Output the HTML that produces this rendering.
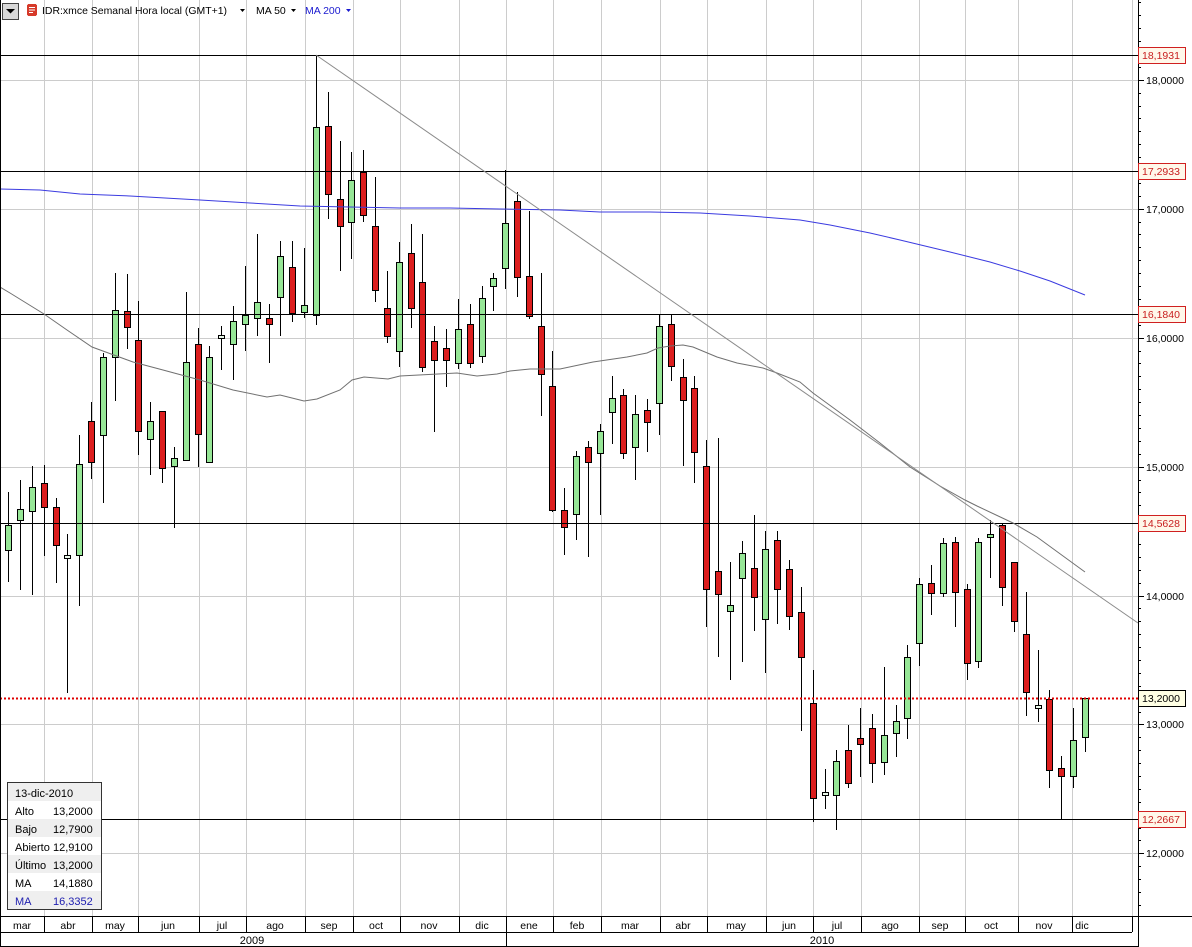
<!DOCTYPE html>
<html><head><meta charset="utf-8">
<style>
html,body{margin:0;padding:0;background:#fff;}
svg{display:block;}
.g{fill:#96e696}.r{fill:#dc1e1e}.w{fill:#eaf8ea}
text{font-family:"Liberation Sans",Arial,sans-serif;}
</style></head>
<body>
<svg width="1192" height="947" viewBox="0 0 1192 947" xmlns="http://www.w3.org/2000/svg" shape-rendering="crispEdges">
<rect x="0" y="0" width="1192" height="947" fill="#fff"/>
<!-- vertical gridlines -->
<g stroke="#cccccc" stroke-width="1">
<path d="M44.5 0V916M92.5 0V916M138.5 0V916M199.5 0V916M246.5 0V916M305.5 0V916M353.5 0V916M400.5 0V916M459.5 0V916M506.5 0V916M553.5 0V916M601.5 0V916M660.5 0V916M707.5 0V916M766.5 0V916M813.5 0V916M861.5 0V916M919.5 0V916M965.5 0V916M1018.5 0V916M1072.5 0V916M1132.5 0V916"/>
<path d="M0 80.5H1138M0 209.5H1138M0 338.5H1138M0 467.5H1138M0 596.5H1138M0 724.5H1138M0 853.5H1138"/>
</g>

<!-- candles -->
<g fill="#000">
<g transform="translate(8)"><rect x="0" y="492" width="1" height="90"/><rect x="-3" y="525" width="7" height="26"/><rect class="g" x="-2" y="526" width="5" height="24"/></g>
<g transform="translate(20)"><rect x="0" y="480" width="1" height="110"/><rect x="-3" y="509" width="7" height="12"/><rect class="g" x="-2" y="510" width="5" height="10"/></g>
<g transform="translate(32)"><rect x="0" y="466" width="1" height="129"/><rect x="-3" y="487" width="7" height="25"/><rect class="g" x="-2" y="488" width="5" height="23"/></g>
<g transform="translate(44)"><rect x="0" y="465" width="1" height="91"/><rect x="-3" y="483" width="7" height="25"/><rect class="r" x="-2" y="484" width="5" height="23"/></g>
<g transform="translate(56)"><rect x="0" y="498" width="1" height="85"/><rect x="-3" y="507" width="7" height="39"/><rect class="r" x="-2" y="508" width="5" height="37"/></g>
<g transform="translate(67)"><rect x="0" y="534" width="1" height="159"/><rect x="-3" y="555" width="7" height="4"/><rect class="w" x="-2" y="556" width="5" height="2"/></g>
<g transform="translate(79)"><rect x="0" y="435" width="1" height="171"/><rect x="-3" y="464" width="7" height="92"/><rect class="g" x="-2" y="465" width="5" height="90"/></g>
<g transform="translate(91)"><rect x="0" y="402" width="1" height="77"/><rect x="-3" y="421" width="7" height="42"/><rect class="r" x="-2" y="422" width="5" height="40"/></g>
<g transform="translate(103)"><rect x="0" y="353" width="1" height="150"/><rect x="-3" y="357" width="7" height="79"/><rect class="g" x="-2" y="358" width="5" height="77"/></g>
<g transform="translate(115)"><rect x="0" y="273" width="1" height="128"/><rect x="-3" y="310" width="7" height="48"/><rect class="g" x="-2" y="311" width="5" height="46"/></g>
<g transform="translate(127)"><rect x="0" y="274" width="1" height="75"/><rect x="-3" y="311" width="7" height="17"/><rect class="r" x="-2" y="312" width="5" height="15"/></g>
<g transform="translate(138)"><rect x="0" y="301" width="1" height="154"/><rect x="-3" y="340" width="7" height="92"/><rect class="r" x="-2" y="341" width="5" height="90"/></g>
<g transform="translate(150)"><rect x="0" y="402" width="1" height="73"/><rect x="-3" y="421" width="7" height="19"/><rect class="g" x="-2" y="422" width="5" height="17"/></g>
<g transform="translate(162)"><rect x="0" y="411" width="1" height="72"/><rect x="-3" y="411" width="7" height="58"/><rect class="r" x="-2" y="412" width="5" height="56"/></g>
<g transform="translate(174)"><rect x="0" y="447" width="1" height="81"/><rect x="-3" y="458" width="7" height="9"/><rect class="g" x="-2" y="459" width="5" height="7"/></g>
<g transform="translate(186)"><rect x="0" y="292" width="1" height="168"/><rect x="-3" y="362" width="7" height="99"/><rect class="g" x="-2" y="363" width="5" height="97"/></g>
<g transform="translate(198)"><rect x="0" y="328" width="1" height="139"/><rect x="-3" y="344" width="7" height="91"/><rect class="r" x="-2" y="345" width="5" height="89"/></g>
<g transform="translate(209)"><rect x="0" y="346" width="1" height="116"/><rect x="-3" y="357" width="7" height="106"/><rect class="g" x="-2" y="358" width="5" height="104"/></g>
<g transform="translate(221)"><rect x="0" y="326" width="1" height="44"/><rect x="-3" y="335" width="7" height="4"/><rect class="w" x="-2" y="336" width="5" height="2"/></g>
<g transform="translate(233)"><rect x="0" y="306" width="1" height="74"/><rect x="-3" y="321" width="7" height="24"/><rect class="g" x="-2" y="322" width="5" height="22"/></g>
<g transform="translate(245)"><rect x="0" y="266" width="1" height="85"/><rect x="-3" y="315" width="7" height="10"/><rect class="g" x="-2" y="316" width="5" height="8"/></g>
<g transform="translate(257)"><rect x="0" y="234" width="1" height="102"/><rect x="-3" y="302" width="7" height="17"/><rect class="g" x="-2" y="303" width="5" height="15"/></g>
<g transform="translate(269)"><rect x="0" y="304" width="1" height="59"/><rect x="-3" y="318" width="7" height="7"/><rect class="r" x="-2" y="319" width="5" height="5"/></g>
<g transform="translate(280)"><rect x="0" y="241" width="1" height="95"/><rect x="-3" y="256" width="7" height="42"/><rect class="g" x="-2" y="257" width="5" height="40"/></g>
<g transform="translate(292)"><rect x="0" y="241" width="1" height="81"/><rect x="-3" y="267" width="7" height="47"/><rect class="r" x="-2" y="268" width="5" height="45"/></g>
<g transform="translate(304)"><rect x="0" y="248" width="1" height="70"/><rect x="-3" y="305" width="7" height="8"/><rect class="g" x="-2" y="306" width="5" height="6"/></g>
<g transform="translate(316)"><rect x="0" y="55" width="1" height="270"/><rect x="-3" y="127" width="7" height="189"/><rect class="g" x="-2" y="128" width="5" height="187"/></g>
<g transform="translate(328)"><rect x="0" y="92" width="1" height="127"/><rect x="-3" y="126" width="7" height="69"/><rect class="r" x="-2" y="127" width="5" height="67"/></g>
<g transform="translate(340)"><rect x="0" y="141" width="1" height="130"/><rect x="-3" y="199" width="7" height="28"/><rect class="r" x="-2" y="200" width="5" height="26"/></g>
<g transform="translate(351)"><rect x="0" y="152" width="1" height="107"/><rect x="-3" y="180" width="7" height="43"/><rect class="g" x="-2" y="181" width="5" height="41"/></g>
<g transform="translate(363)"><rect x="0" y="150" width="1" height="72"/><rect x="-3" y="172" width="7" height="44"/><rect class="r" x="-2" y="173" width="5" height="42"/></g>
<g transform="translate(375)"><rect x="0" y="177" width="1" height="125"/><rect x="-3" y="226" width="7" height="65"/><rect class="r" x="-2" y="227" width="5" height="63"/></g>
<g transform="translate(387)"><rect x="0" y="271" width="1" height="72"/><rect x="-3" y="308" width="7" height="29"/><rect class="r" x="-2" y="309" width="5" height="27"/></g>
<g transform="translate(399)"><rect x="0" y="242" width="1" height="125"/><rect x="-3" y="262" width="7" height="90"/><rect class="g" x="-2" y="263" width="5" height="88"/></g>
<g transform="translate(411)"><rect x="0" y="224" width="1" height="104"/><rect x="-3" y="253" width="7" height="56"/><rect class="r" x="-2" y="254" width="5" height="54"/></g>
<g transform="translate(422)"><rect x="0" y="234" width="1" height="138"/><rect x="-3" y="282" width="7" height="86"/><rect class="r" x="-2" y="283" width="5" height="84"/></g>
<g transform="translate(434)"><rect x="0" y="326" width="1" height="106"/><rect x="-3" y="341" width="7" height="20"/><rect class="r" x="-2" y="342" width="5" height="18"/></g>
<g transform="translate(446)"><rect x="0" y="329" width="1" height="58"/><rect x="-3" y="348" width="7" height="13"/><rect class="r" x="-2" y="349" width="5" height="11"/></g>
<g transform="translate(458)"><rect x="0" y="299" width="1" height="70"/><rect x="-3" y="329" width="7" height="35"/><rect class="g" x="-2" y="330" width="5" height="33"/></g>
<g transform="translate(470)"><rect x="0" y="304" width="1" height="64"/><rect x="-3" y="324" width="7" height="40"/><rect class="r" x="-2" y="325" width="5" height="38"/></g>
<g transform="translate(482)"><rect x="0" y="286" width="1" height="77"/><rect x="-3" y="298" width="7" height="59"/><rect class="g" x="-2" y="299" width="5" height="57"/></g>
<g transform="translate(493)"><rect x="0" y="273" width="1" height="38"/><rect x="-3" y="278" width="7" height="9"/><rect class="g" x="-2" y="279" width="5" height="7"/></g>
<g transform="translate(505)"><rect x="0" y="170" width="1" height="119"/><rect x="-3" y="223" width="7" height="46"/><rect class="g" x="-2" y="224" width="5" height="44"/></g>
<g transform="translate(517)"><rect x="0" y="192" width="1" height="105"/><rect x="-3" y="201" width="7" height="77"/><rect class="r" x="-2" y="202" width="5" height="75"/></g>
<g transform="translate(529)"><rect x="0" y="211" width="1" height="108"/><rect x="-3" y="276" width="7" height="41"/><rect class="r" x="-2" y="277" width="5" height="39"/></g>
<g transform="translate(541)"><rect x="0" y="273" width="1" height="143"/><rect x="-3" y="326" width="7" height="49"/><rect class="r" x="-2" y="327" width="5" height="47"/></g>
<g transform="translate(552)"><rect x="0" y="351" width="1" height="161"/><rect x="-3" y="386" width="7" height="125"/><rect class="r" x="-2" y="387" width="5" height="123"/></g>
<g transform="translate(564)"><rect x="0" y="488" width="1" height="67"/><rect x="-3" y="510" width="7" height="18"/><rect class="r" x="-2" y="511" width="5" height="16"/></g>
<g transform="translate(576)"><rect x="0" y="451" width="1" height="89"/><rect x="-3" y="456" width="7" height="59"/><rect class="g" x="-2" y="457" width="5" height="57"/></g>
<g transform="translate(588)"><rect x="0" y="441" width="1" height="116"/><rect x="-3" y="447" width="7" height="16"/><rect class="r" x="-2" y="448" width="5" height="14"/></g>
<g transform="translate(600)"><rect x="0" y="424" width="1" height="91"/><rect x="-3" y="431" width="7" height="23"/><rect class="g" x="-2" y="432" width="5" height="21"/></g>
<g transform="translate(612)"><rect x="0" y="376" width="1" height="68"/><rect x="-3" y="398" width="7" height="15"/><rect class="g" x="-2" y="399" width="5" height="13"/></g>
<g transform="translate(623)"><rect x="0" y="389" width="1" height="70"/><rect x="-3" y="395" width="7" height="59"/><rect class="r" x="-2" y="396" width="5" height="57"/></g>
<g transform="translate(635)"><rect x="0" y="395" width="1" height="85"/><rect x="-3" y="414" width="7" height="34"/><rect class="g" x="-2" y="415" width="5" height="32"/></g>
<g transform="translate(647)"><rect x="0" y="399" width="1" height="53"/><rect x="-3" y="410" width="7" height="13"/><rect class="r" x="-2" y="411" width="5" height="11"/></g>
<g transform="translate(659)"><rect x="0" y="314" width="1" height="121"/><rect x="-3" y="326" width="7" height="78"/><rect class="g" x="-2" y="327" width="5" height="76"/></g>
<g transform="translate(671)"><rect x="0" y="314" width="1" height="67"/><rect x="-3" y="324" width="7" height="43"/><rect class="r" x="-2" y="325" width="5" height="41"/></g>
<g transform="translate(683)"><rect x="0" y="359" width="1" height="107"/><rect x="-3" y="377" width="7" height="24"/><rect class="r" x="-2" y="378" width="5" height="22"/></g>
<g transform="translate(694)"><rect x="0" y="376" width="1" height="107"/><rect x="-3" y="388" width="7" height="65"/><rect class="r" x="-2" y="389" width="5" height="63"/></g>
<g transform="translate(706)"><rect x="0" y="440" width="1" height="187"/><rect x="-3" y="466" width="7" height="124"/><rect class="r" x="-2" y="467" width="5" height="122"/></g>
<g transform="translate(718)"><rect x="0" y="438" width="1" height="219"/><rect x="-3" y="571" width="7" height="24"/><rect class="r" x="-2" y="572" width="5" height="22"/></g>
<g transform="translate(730)"><rect x="0" y="562" width="1" height="118"/><rect x="-3" y="605" width="7" height="7"/><rect class="g" x="-2" y="606" width="5" height="5"/></g>
<g transform="translate(742)"><rect x="0" y="541" width="1" height="121"/><rect x="-3" y="553" width="7" height="26"/><rect class="g" x="-2" y="554" width="5" height="24"/></g>
<g transform="translate(754)"><rect x="0" y="515" width="1" height="116"/><rect x="-3" y="568" width="7" height="30"/><rect class="r" x="-2" y="569" width="5" height="28"/></g>
<g transform="translate(765)"><rect x="0" y="531" width="1" height="142"/><rect x="-3" y="549" width="7" height="71"/><rect class="g" x="-2" y="550" width="5" height="69"/></g>
<g transform="translate(777)"><rect x="0" y="531" width="1" height="93"/><rect x="-3" y="540" width="7" height="50"/><rect class="r" x="-2" y="541" width="5" height="48"/></g>
<g transform="translate(789)"><rect x="0" y="560" width="1" height="70"/><rect x="-3" y="569" width="7" height="48"/><rect class="r" x="-2" y="570" width="5" height="46"/></g>
<g transform="translate(801)"><rect x="0" y="587" width="1" height="144"/><rect x="-3" y="612" width="7" height="46"/><rect class="r" x="-2" y="613" width="5" height="44"/></g>
<g transform="translate(813)"><rect x="0" y="670" width="1" height="152"/><rect x="-3" y="703" width="7" height="96"/><rect class="r" x="-2" y="704" width="5" height="94"/></g>
<g transform="translate(825)"><rect x="0" y="769" width="1" height="40"/><rect x="-3" y="792" width="7" height="4"/><rect class="w" x="-2" y="793" width="5" height="2"/></g>
<g transform="translate(836)"><rect x="0" y="750" width="1" height="80"/><rect x="-3" y="761" width="7" height="35"/><rect class="g" x="-2" y="762" width="5" height="33"/></g>
<g transform="translate(848)"><rect x="0" y="725" width="1" height="63"/><rect x="-3" y="750" width="7" height="34"/><rect class="r" x="-2" y="751" width="5" height="32"/></g>
<g transform="translate(860)"><rect x="0" y="708" width="1" height="69"/><rect x="-3" y="738" width="7" height="7"/><rect class="r" x="-2" y="739" width="5" height="5"/></g>
<g transform="translate(872)"><rect x="0" y="714" width="1" height="69"/><rect x="-3" y="728" width="7" height="36"/><rect class="r" x="-2" y="729" width="5" height="34"/></g>
<g transform="translate(884)"><rect x="0" y="667" width="1" height="108"/><rect x="-3" y="735" width="7" height="28"/><rect class="g" x="-2" y="736" width="5" height="26"/></g>
<g transform="translate(896)"><rect x="0" y="705" width="1" height="52"/><rect x="-3" y="721" width="7" height="13"/><rect class="g" x="-2" y="722" width="5" height="11"/></g>
<g transform="translate(907)"><rect x="0" y="645" width="1" height="94"/><rect x="-3" y="657" width="7" height="62"/><rect class="g" x="-2" y="658" width="5" height="60"/></g>
<g transform="translate(919)"><rect x="0" y="578" width="1" height="88"/><rect x="-3" y="584" width="7" height="60"/><rect class="g" x="-2" y="585" width="5" height="58"/></g>
<g transform="translate(931)"><rect x="0" y="565" width="1" height="50"/><rect x="-3" y="583" width="7" height="11"/><rect class="r" x="-2" y="584" width="5" height="9"/></g>
<g transform="translate(943)"><rect x="0" y="538" width="1" height="59"/><rect x="-3" y="543" width="7" height="51"/><rect class="g" x="-2" y="544" width="5" height="49"/></g>
<g transform="translate(955)"><rect x="0" y="537" width="1" height="90"/><rect x="-3" y="542" width="7" height="51"/><rect class="r" x="-2" y="543" width="5" height="49"/></g>
<g transform="translate(967)"><rect x="0" y="584" width="1" height="96"/><rect x="-3" y="589" width="7" height="75"/><rect class="r" x="-2" y="590" width="5" height="73"/></g>
<g transform="translate(978)"><rect x="0" y="538" width="1" height="130"/><rect x="-3" y="542" width="7" height="120"/><rect class="g" x="-2" y="543" width="5" height="118"/></g>
<g transform="translate(990)"><rect x="0" y="520" width="1" height="58"/><rect x="-3" y="534" width="7" height="4"/><rect class="g" x="-2" y="535" width="5" height="2"/></g>
<g transform="translate(1002)"><rect x="0" y="523" width="1" height="83"/><rect x="-3" y="525" width="7" height="63"/><rect class="r" x="-2" y="526" width="5" height="61"/></g>
<g transform="translate(1014)"><rect x="0" y="562" width="1" height="70"/><rect x="-3" y="562" width="7" height="60"/><rect class="r" x="-2" y="563" width="5" height="58"/></g>
<g transform="translate(1026)"><rect x="0" y="592" width="1" height="124"/><rect x="-3" y="634" width="7" height="59"/><rect class="r" x="-2" y="635" width="5" height="57"/></g>
<g transform="translate(1038)"><rect x="0" y="650" width="1" height="72"/><rect x="-3" y="705" width="7" height="4"/><rect class="w" x="-2" y="706" width="5" height="2"/></g>
<g transform="translate(1049)"><rect x="0" y="690" width="1" height="98"/><rect x="-3" y="699" width="7" height="72"/><rect class="r" x="-2" y="700" width="5" height="70"/></g>
<g transform="translate(1061)"><rect x="0" y="756" width="1" height="64"/><rect x="-3" y="768" width="7" height="9"/><rect class="r" x="-2" y="769" width="5" height="7"/></g>
<g transform="translate(1073)"><rect x="0" y="708" width="1" height="80"/><rect x="-3" y="740" width="7" height="37"/><rect class="g" x="-2" y="741" width="5" height="35"/></g>
<g transform="translate(1085)"><rect x="0" y="698" width="1" height="54"/><rect x="-3" y="698" width="7" height="40"/><rect class="g" x="-2" y="699" width="5" height="38"/></g>
</g>

<!-- horizontal drawing lines -->
<g stroke="#000" stroke-width="1">
<path d="M0 55.5H1138M0 171.5H1138M0 314.5H1138M0 523.5H1138M0 819.5H1138"/>
</g>
<path d="M0 698.5H1138" stroke="#e00000" stroke-width="2" stroke-dasharray="2 2"/>

<!-- MA lines and trendline -->
<g fill="none" shape-rendering="auto">
<polyline stroke="#3b3be0" stroke-width="1" points="0,189 40,190 80,194 130,196 200,200 250,203 300,206 350,207 400,208 450,208 500,209 560,210 600,212 650,212 700,213 750,216 800,220 830,225 870,233 900,240 950,252 990,262 1020,271 1050,281 1085,295"/>
<polyline stroke="#707070" stroke-width="1" points="0,287 10,293 44,314 67,330 92,347 133,362 163,370 200,380 233,390 267,397 280,395 300,400 304,401 317,399 340,390 352,380 364,377 388,379 400,376 457,373 477,376 497,374 510,371 530,369 560,369 593,362 627,357 647,353 658,348 670,346 683,345 693,347 717,357 737,363 763,368 777,373 800,382 813,393 850,420 880,443 910,467 940,486 965,500 977,506 1013,523 1037,537 1085,572"/>
<line x1="316" y1="55" x2="1138" y2="623" stroke="#8a8a8a" stroke-width="1"/>
</g>

<!-- left border -->
<path d="M0.5 0V947" stroke="#000"/>

<!-- right axis -->
<rect x="1139" y="0" width="53" height="916" fill="#fff"/>
<path d="M1138.5 0V947" stroke="#000"/>
<path stroke="#000" d="M1138 2.5h3M1138 15.5h3M1138 28.5h3M1138 41.5h3M1138 54.5h3M1138 67.5h3M1138 80.5h6M1138 93.5h3M1138 106.5h3M1138 118.5h3M1138 131.5h3M1138 144.5h3M1138 157.5h3M1138 170.5h3M1138 183.5h3M1138 196.5h3M1138 209.5h6M1138 222.5h3M1138 234.5h3M1138 247.5h3M1138 260.5h3M1138 273.5h3M1138 286.5h3M1138 299.5h3M1138 312.5h3M1138 325.5h3M1138 338.5h6M1138 351.5h3M1138 363.5h3M1138 376.5h3M1138 389.5h3M1138 402.5h3M1138 415.5h3M1138 428.5h3M1138 441.5h3M1138 454.5h3M1138 467.5h6M1138 480.5h3M1138 492.5h3M1138 505.5h3M1138 518.5h3M1138 531.5h3M1138 544.5h3M1138 557.5h3M1138 570.5h3M1138 583.5h3M1138 596.5h6M1138 608.5h3M1138 621.5h3M1138 634.5h3M1138 647.5h3M1138 660.5h3M1138 673.5h3M1138 686.5h3M1138 699.5h3M1138 712.5h3M1138 724.5h6M1138 737.5h3M1138 750.5h3M1138 763.5h3M1138 776.5h3M1138 789.5h3M1138 802.5h3M1138 815.5h3M1138 828.5h3M1138 840.5h3M1138 853.5h6M1138 866.5h3M1138 879.5h3M1138 892.5h3M1138 905.5h3"/>
<g font-size="10.5" fill="#000">
<text x="1146" y="84">18,0000</text>
<text x="1146" y="213">17,0000</text>
<text x="1146" y="342">16,0000</text>
<text x="1146" y="471">15,0000</text>
<text x="1146" y="600">14,0000</text>
<text x="1146" y="728">13,0000</text>
<text x="1146" y="857">12,0000</text>
</g>
<!-- value boxes -->
<g font-size="10.5">
<rect x="1138.5" y="47.5" width="47" height="16" fill="#fff8ea" stroke="#d02020"/>
<text x="1142" y="59" fill="#c81e1e">18,1931</text>
<rect x="1138.5" y="163.5" width="47" height="16" fill="#fff8ea" stroke="#d02020"/>
<text x="1142" y="175" fill="#c81e1e">17,2933</text>
<rect x="1138.5" y="306.5" width="47" height="16" fill="#fff8ea" stroke="#d02020"/>
<text x="1142" y="318" fill="#c81e1e">16,1840</text>
<rect x="1138.5" y="515.5" width="47" height="16" fill="#fff8ea" stroke="#d02020"/>
<text x="1142" y="527" fill="#c81e1e">14,5628</text>
<rect x="1138.5" y="690.5" width="47" height="16" fill="#ffffe4" stroke="#000"/>
<text x="1142" y="702" fill="#000">13,2000</text>
<rect x="1138.5" y="811.5" width="47" height="16" fill="#fff8ea" stroke="#d02020"/>
<text x="1142" y="823" fill="#c81e1e">12,2667</text>
</g>

<!-- bottom axis -->
<rect x="1" y="917" width="1137" height="29" fill="#fff"/>
<g stroke="#000">
<path d="M0 916.5H1192M0 932.5H1132M0 946.5H1138"/>
<path d="M44.5 917V932M92.5 917V932M138.5 917V932M199.5 917V932M246.5 917V932M305.5 917V932M353.5 917V932M400.5 917V932M459.5 917V932M506.5 917V932M553.5 917V932M601.5 917V932M660.5 917V932M707.5 917V932M766.5 917V932M813.5 917V932M861.5 917V932M919.5 917V932M965.5 917V932M1018.5 917V932M1072.5 917V932M1132.5 917V932M506.5 932V946"/>
</g>
<g font-size="10.5" fill="#000" text-anchor="middle">
<text x="22" y="929">mar</text>
<text x="68" y="929">abr</text>
<text x="115" y="929">may</text>
<text x="168" y="929">jun</text>
<text x="222" y="929">jul</text>
<text x="275" y="929">ago</text>
<text x="329" y="929">sep</text>
<text x="376" y="929">oct</text>
<text x="429" y="929">nov</text>
<text x="482" y="929">dic</text>
<text x="529" y="929">ene</text>
<text x="577" y="929">feb</text>
<text x="630" y="929">mar</text>
<text x="683" y="929">abr</text>
<text x="736" y="929">may</text>
<text x="789" y="929">jun</text>
<text x="837" y="929">jul</text>
<text x="890" y="929">ago</text>
<text x="940" y="929">sep</text>
<text x="991" y="929">oct</text>
<text x="1044" y="929">nov</text>
<text x="1082" y="929">dic</text>
<text x="252" y="944" font-size="11">2009</text>
<text x="822" y="944" font-size="11">2010</text>
</g>

<!-- info box -->
<g>
<rect x="7.5" y="782.5" width="94" height="127" fill="#fff" stroke="#333"/>
<rect x="8" y="783" width="93" height="18" fill="#efefef"/>
<rect x="8" y="819" width="93" height="18" fill="#efefef"/>
<rect x="8" y="855" width="93" height="18" fill="#efefef"/>
<rect x="8" y="891" width="93" height="18" fill="#efefef"/>
<g font-size="11" fill="#000">
<text x="15" y="797">13-dic-2010</text>
<text x="15" y="815">Alto</text><text x="53" y="815">13,2000</text>
<text x="15" y="833">Bajo</text><text x="53" y="833">12,7900</text>
<text x="15" y="851">Abierto</text><text x="53" y="851">12,9100</text>
<text x="15" y="869">Último</text><text x="53" y="869">13,2000</text>
<text x="15" y="887">MA</text><text x="53" y="887">14,1880</text>
<text x="15" y="905" fill="#2020b0">MA</text><text x="53" y="905" fill="#2020b0">16,3352</text>
</g>
</g>

<!-- header -->
<g>
<rect x="2.5" y="3.5" width="16" height="16" fill="#d8d8d8" stroke="#444"/>
<path d="M6 9h9l-4.5 4.5z" fill="#000" shape-rendering="auto"/>
<rect x="27" y="4" width="10" height="12" rx="2" fill="#d63a2a"/>
<path d="M29 7.5h6M29 10h6M29 12.5h4" stroke="#fff" stroke-width="1"/>
<text x="42" y="14" font-size="10.5" textLength="185" lengthAdjust="spacingAndGlyphs" fill="#000">IDR:xmce Semanal Hora local (GMT+1)</text>
<path d="M240 9h5l-2.5 3z" fill="#000" shape-rendering="auto"/>
<text x="256" y="14" font-size="10.5" fill="#000">MA 50</text>
<path d="M291 9h5l-2.5 3z" fill="#000" shape-rendering="auto"/>
<text x="305" y="14" font-size="10.5" fill="#1a1ad0">MA 200</text>
<path d="M346 9h5l-2.5 3z" fill="#1a1ad0" shape-rendering="auto"/>
</g>
</svg>
</body></html>
